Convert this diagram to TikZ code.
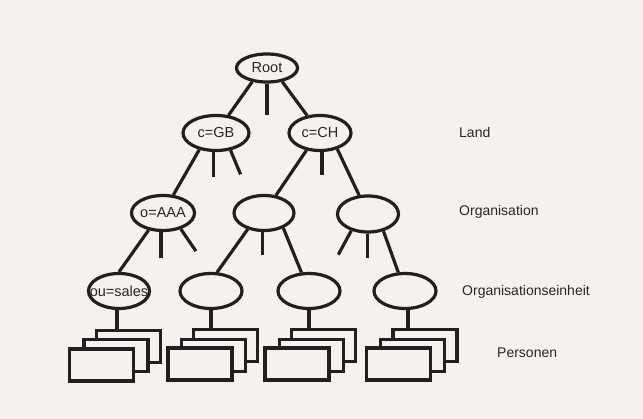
\documentclass[tikz,border=0pt]{standalone}
\usepackage{fontspec}
\setmainfont{Liberation Sans}
\usetikzlibrary{shapes.geometric}
\definecolor{bg}{RGB}{246,241,239}
\definecolor{ink}{RGB}{35,31,32}
\definecolor{txt}{RGB}{40,38,38}
\tikzset{
  ell/.style={ellipse, draw=ink, line width=3.2pt, minimum width=62pt, minimum height=35pt, inner sep=0pt},
  etxt/.style={text=txt, inner sep=0pt, font=\fontsize{14.5pt}{17pt}\selectfont},
  pbox/.style={rectangle, draw=ink, fill=bg, line width=3.2pt, minimum width=64pt, minimum height=32pt, inner sep=0pt},
  conn/.style={draw=ink, line width=3.2pt},
  lvl/.style={anchor=west, inner sep=0pt, text=txt, font=\fontsize{14pt}{17pt}\selectfont}
}
\begin{document}
\begin{tikzpicture}[x=1pt,y=-1pt]
\fill[bg] (0,0) rectangle (643,419);
\useasboundingbox (0,0) rectangle (643,419);

% ellipses
\node[ell, minimum width=61pt, minimum height=28pt, label={[etxt]center:Root}] (root) at (267,68) {};
\node[ell, minimum width=66pt, label={[etxt]center:c=GB}] (gb) at (216,133) {};
\node[ell, label={[etxt]center:c=CH}] (ch) at (320,133) {};
\node[ell, minimum width=63pt, label={[etxt]center:o=AAA}] (aaa) at (163,213) {};
\node[ell, minimum width=60pt] (o2) at (264,213) {};
\node[ell, minimum width=61pt, minimum height=36pt] (o3) at (368,214) {};
\node[ell, minimum width=61pt, label={[etxt]center:ou=sales}] (sales) at (119,291) {};
\node[ell] (ou2) at (211,291) {};
\node[ell] (ou3) at (309,291) {};
\node[ell] (ou4) at (405,291) {};

% connectors
\draw[conn] (root.223) -- (gb);
\draw[conn] (root.south) -- ++(0,31);
\draw[conn] (root.318) -- (ch);
\draw[conn] (gb.225) -- (aaa);
\draw[conn] (gb.262) -- ++(0,25);
\draw[conn] (gb.310) -- ++(10,24);
\draw[conn] (ch.232) -- (o2);
\draw[conn] (ch.276) -- ++(0,23);
\draw[conn] (ch.317) -- (o3);
\draw[conn] (aaa.230) -- (sales.north);
\draw[conn] (aaa.264) -- ++(0,26);
\draw[conn] (aaa.318) -- ++(15,22);
\draw[conn] (o2.225) -- (ou2.72);
\draw[conn] (o2.266) -- ++(0,23);
\draw[conn] (o2.322) -- (ou3);
\draw[conn] (o3.225) -- ++(-13,24);
\draw[conn] (o3.268) -- ++(0,24);
\draw[conn] (o3.312) -- (ou4);

% person boxes
\node[pbox] (p1a) at (128.5,346.5) {};
\node[pbox] (p1b) at (116,355.5) {};
\node[pbox] (p1c) at (101.5,365) {};
\node[pbox] (p2a) at (225.5,345.5) {};
\node[pbox] (p2b) at (213.5,355.5) {};
\node[pbox] (p2c) at (200,364) {};
\node[pbox] (p3a) at (323.5,345.5) {};
\node[pbox] (p3b) at (311.5,355.5) {};
\node[pbox] (p3c) at (297,364) {};
\node[pbox] (p4a) at (425,345.5) {};
\node[pbox] (p4b) at (412.5,355.5) {};
\node[pbox] (p4c) at (398.5,364) {};

% stems
\draw[conn] ([xshift=-2pt]sales.south) -- ([xshift=-2pt]sales.south |- p1a.north);
\draw[conn] (ou2.south) -- (ou2.south |- p2a.north);
\draw[conn] (ou3.south) -- (ou3.south |- p3a.north);
\draw[conn] ([xshift=3pt]ou4.south) -- ([xshift=3pt]ou4.south |- p4a.north);

% level labels
\node[lvl] (lland) at (459,132) {Land};
\node[lvl] (lorg) at (459,212) {Organisation};
\node[lvl] (lou) at (462,292) {Organisationseinheit};
\node[lvl] (lpers) at (497,353) {Personen};
\end{tikzpicture}
\end{document}
